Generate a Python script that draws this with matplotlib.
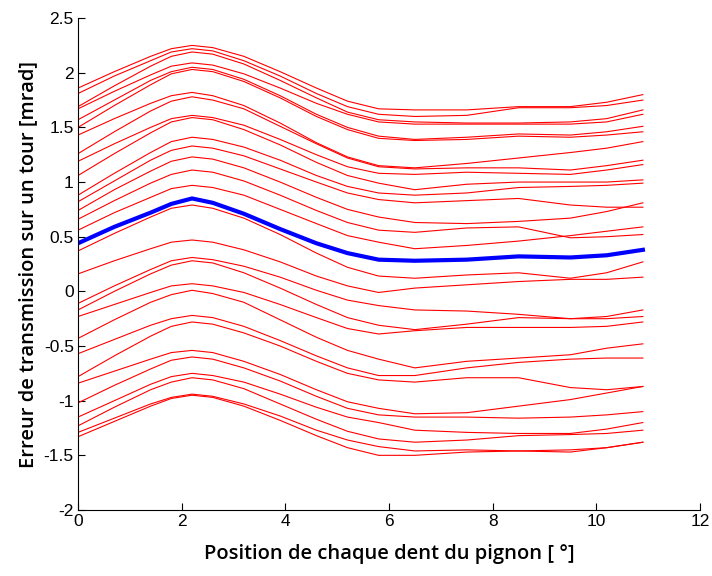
import matplotlib
matplotlib.use("Agg")
import matplotlib.pyplot as plt

# Positions des points relevés (degrés)
x = [0, 0.7, 1.4, 1.8, 2.2, 2.6, 3.2, 3.9, 4.6, 5.2, 5.8, 6.5, 7.5, 8.5, 9.5, 10.2, 10.9]

# Courbes rouges (erreur de transmission, mrad)
rouges = [
    [1.86, 2.01, 2.15, 2.22, 2.25, 2.23, 2.15, 2.01, 1.86, 1.74, 1.67, 1.66, 1.66, 1.69, 1.69, 1.73, 1.80],
    [1.81, 1.97, 2.11, 2.19, 2.22, 2.20, 2.11, 1.97, 1.81, 1.69, 1.62, 1.60, 1.61, 1.68, 1.68, 1.70, 1.75],
    [1.69, 1.88, 2.06, 2.15, 2.19, 2.17, 2.08, 1.93, 1.77, 1.64, 1.57, 1.55, 1.54, 1.54, 1.55, 1.58, 1.66],
    [1.67, 1.83, 1.98, 2.06, 2.09, 2.07, 1.99, 1.86, 1.72, 1.62, 1.55, 1.53, 1.53, 1.53, 1.53, 1.55, 1.62],
    [1.57, 1.75, 1.93, 2.01, 2.05, 2.03, 1.94, 1.79, 1.62, 1.50, 1.42, 1.39, 1.41, 1.44, 1.43, 1.46, 1.51],
    [1.50, 1.70, 1.89, 1.99, 2.03, 2.01, 1.92, 1.77, 1.60, 1.48, 1.40, 1.38, 1.39, 1.42, 1.41, 1.43, 1.46],
    [1.43, 1.58, 1.72, 1.79, 1.82, 1.79, 1.70, 1.54, 1.36, 1.23, 1.15, 1.13, 1.17, 1.22, 1.27, 1.31, 1.37],
    [1.26, 1.46, 1.65, 1.74, 1.78, 1.75, 1.67, 1.51, 1.35, 1.22, 1.14, 1.12, 1.13, 1.13, 1.11, 1.15, 1.20],
    [1.19, 1.35, 1.50, 1.58, 1.61, 1.59, 1.52, 1.39, 1.25, 1.14, 1.08, 1.07, 1.09, 1.08, 1.07, 1.11, 1.16],
    [1.06, 1.26, 1.45, 1.55, 1.59, 1.57, 1.48, 1.34, 1.18, 1.06, 0.99, 0.93, 0.98, 1.00, 1.00, 1.00, 1.02],
    [0.88, 1.08, 1.27, 1.37, 1.41, 1.39, 1.32, 1.20, 1.06, 0.96, 0.90, 0.88, 0.90, 0.95, 0.96, 0.97, 0.99],
    [0.82, 1.01, 1.20, 1.29, 1.33, 1.31, 1.24, 1.12, 1.00, 0.90, 0.84, 0.81, 0.83, 0.85, 0.79, 0.77, 0.77],
    [0.74, 0.93, 1.10, 1.19, 1.23, 1.21, 1.13, 1.00, 0.86, 0.75, 0.68, 0.63, 0.62, 0.64, 0.67, 0.73, 0.81],
    [0.66, 0.83, 0.99, 1.07, 1.11, 1.09, 1.01, 0.88, 0.74, 0.63, 0.56, 0.54, 0.58, 0.59, 0.49, 0.50, 0.52],
    [0.56, 0.72, 0.86, 0.94, 0.97, 0.95, 0.88, 0.75, 0.62, 0.51, 0.45, 0.39, 0.42, 0.46, 0.51, 0.55, 0.59],
    [0.37, 0.53, 0.68, 0.76, 0.79, 0.76, 0.67, 0.52, 0.35, 0.22, 0.14, 0.12, 0.15, 0.17, 0.12, 0.17, 0.27],
    [0.16, 0.28, 0.39, 0.45, 0.47, 0.45, 0.38, 0.27, 0.14, 0.05, -0.01, 0.03, 0.06, 0.09, 0.11, 0.11, 0.13],
    [-0.11, 0.05, 0.20, 0.28, 0.31, 0.29, 0.23, 0.13, 0.01, -0.08, -0.13, -0.17, -0.18, -0.21, -0.25, -0.23, -0.17],
    [-0.17, 0.00, 0.16, 0.24, 0.28, 0.26, 0.17, 0.03, -0.12, -0.24, -0.31, -0.35, -0.30, -0.24, -0.25, -0.25, -0.23],
    [-0.23, -0.12, -0.01, 0.05, 0.07, 0.05, -0.01, -0.12, -0.24, -0.34, -0.39, -0.36, -0.33, -0.33, -0.33, -0.32, -0.28],
    [-0.43, -0.26, -0.10, -0.03, 0.01, -0.02, -0.10, -0.26, -0.42, -0.54, -0.62, -0.70, -0.64, -0.61, -0.58, -0.52, -0.48],
    [-0.57, -0.44, -0.31, -0.25, -0.22, -0.24, -0.32, -0.45, -0.59, -0.70, -0.77, -0.77, -0.70, -0.65, -0.62, -0.61, -0.61],
    [-0.78, -0.59, -0.41, -0.32, -0.28, -0.30, -0.38, -0.50, -0.64, -0.75, -0.81, -0.83, -0.79, -0.79, -0.88, -0.90, -0.87],
    [-0.84, -0.73, -0.62, -0.56, -0.54, -0.56, -0.64, -0.76, -0.90, -1.01, -1.07, -1.12, -1.11, -1.05, -0.99, -0.93, -0.87],
    [-1.02, -0.86, -0.71, -0.63, -0.60, -0.62, -0.70, -0.82, -0.96, -1.07, -1.13, -1.15, -1.15, -1.16, -1.15, -1.13, -1.10],
    [-1.15, -1.00, -0.85, -0.78, -0.75, -0.77, -0.83, -0.94, -1.06, -1.15, -1.20, -1.27, -1.29, -1.30, -1.30, -1.26, -1.20],
    [-1.23, -1.06, -0.90, -0.83, -0.79, -0.81, -0.89, -1.03, -1.17, -1.28, -1.35, -1.38, -1.36, -1.32, -1.31, -1.30, -1.27],
    [-1.29, -1.16, -1.03, -0.97, -0.94, -0.96, -1.03, -1.14, -1.27, -1.36, -1.42, -1.46, -1.45, -1.46, -1.47, -1.43, -1.38],
    [-1.33, -1.19, -1.05, -0.98, -0.95, -0.97, -1.05, -1.18, -1.32, -1.43, -1.50, -1.50, -1.47, -1.46, -1.45, -1.43, -1.38],
]

# Courbe moyenne (bleue)
bleue = [0.44, 0.59, 0.72, 0.80, 0.85, 0.81, 0.71, 0.57, 0.44, 0.35, 0.29, 0.28, 0.29, 0.32, 0.31, 0.33, 0.38]

xticks = [0, 2, 4, 6, 8, 10, 12]
yticks = [-2, -1.5, -1, -0.5, 0, 0.5, 1, 1.5, 2, 2.5]
yticklabels = ["-2", "-1.5", "-1", "-0.5", "0", "0.5", "1", "1.5", "2", "2.5"]

fig = plt.figure(figsize=(7.12, 5.76), dpi=100)
ax = fig.add_axes([0.1096, 0.1146, 0.8734, 0.854])

for y in rouges:
    ax.plot(x, y, color="#ff0000", linewidth=0.8)
ax.plot(x, bleue, color="#0000ff", linewidth=3)

ax.set_xlim(0, 12)
ax.set_ylim(-2, 2.5)
ax.set_xticks(xticks)
ax.set_yticks(yticks)
ax.set_yticklabels(yticklabels)

ax.spines["top"].set_visible(False)
ax.spines["right"].set_visible(False)
ax.tick_params(direction="in", length=5, width=0.8, labelsize=12.5, pad=3)
for lab in ax.get_xticklabels() + ax.get_yticklabels():
    lab.set_family(["Liberation Sans Narrow", "Liberation Sans", "DejaVu Sans"])

ax.set_xlabel("Position de chaque dent du pignon [ °]", fontsize=14.5,
              family=["Open Sans", "DejaVu Sans"], weight="semibold", labelpad=11)
ax.set_ylabel("Erreur de transmission sur un tour [mrad]", fontsize=14.5,
              family=["Open Sans", "DejaVu Sans"], weight="semibold", labelpad=4)

fig.savefig("out.png", dpi=100)
